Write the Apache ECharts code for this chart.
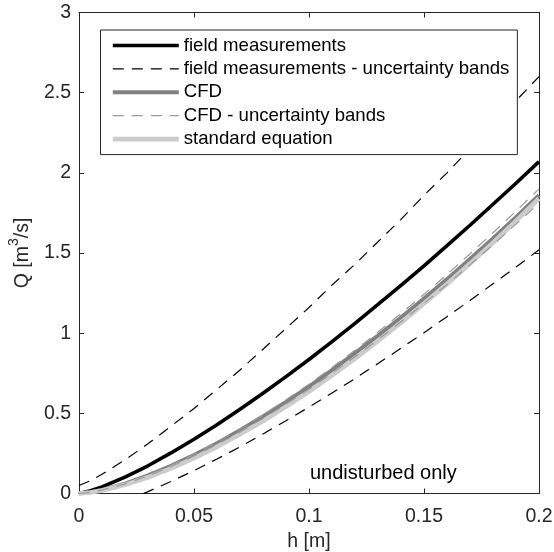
<!DOCTYPE html>
<html>
<head>
<meta charset="utf-8">
<script src="https://cdn.jsdelivr.net/npm/echarts@6/dist/echarts.min.js"></script>
<style>
  html, body { margin: 0; padding: 0; background: #fff; }
  #chart { width: 554px; height: 552px; }
</style>
</head>
<body>
<div id="chart"></div>
<script>
// Water level h [m] at which the rating curves are evaluated
const hValues = [0, 0.005, 0.01, 0.02, 0.03, 0.04, 0.05, 0.06, 0.07, 0.08, 0.09, 0.10,
                 0.11, 0.12, 0.13, 0.14, 0.15, 0.16, 0.17, 0.18, 0.19, 0.20];

// Discharge Q [m^3/s] from field measurements and its uncertainty bands
const fieldQ      = [0, 0.017, 0.041, 0.102, 0.173, 0.253, 0.338, 0.429, 0.525, 0.625, 0.729, 0.836,
                     0.947, 1.061, 1.179, 1.298, 1.420, 1.546, 1.673, 1.804, 1.935, 2.07];
const fieldUpperQ = [0.05, 0.08, 0.12, 0.21, 0.31, 0.42, 0.53, 0.65, 0.77, 0.90, 1.03, 1.16,
                     1.30, 1.43, 1.57, 1.71, 1.86, 2.00, 2.15, 2.30, 2.45, 2.60];
// lower band only becomes positive above h = 0.028 m
const fieldLowerH = [0.028, 0.03, 0.04, 0.05, 0.06, 0.07, 0.08, 0.09, 0.10,
                     0.11, 0.12, 0.13, 0.14, 0.15, 0.16, 0.17, 0.18, 0.19, 0.20];
const fieldLowerQ = [0, 0.012, 0.075, 0.143, 0.215, 0.291, 0.371, 0.454, 0.539,
                     0.627, 0.717, 0.811, 0.906, 1.003, 1.103, 1.204, 1.308, 1.412, 1.52];

// CFD results and uncertainty bands
const cfdQ      = [0, 0.008, 0.022, 0.062, 0.113, 0.172, 0.240, 0.314, 0.394, 0.480, 0.571, 0.667,
                   0.769, 0.875, 0.985, 1.098, 1.216, 1.337, 1.463, 1.591, 1.723, 1.86];
const cfdUpperQ = [0, 0.008, 0.023, 0.063, 0.115, 0.176, 0.245, 0.321, 0.403, 0.491, 0.584, 0.682,
                   0.786, 0.894, 1.007, 1.122, 1.243, 1.366, 1.495, 1.626, 1.761, 1.90];
const cfdLowerQ = [0, 0.008, 0.022, 0.060, 0.110, 0.168, 0.234, 0.306, 0.384, 0.468, 0.557, 0.650,
                   0.750, 0.853, 0.960, 1.071, 1.186, 1.304, 1.426, 1.551, 1.680, 1.81];

// Standard weir equation
const standardQ = [0, 0.0065, 0.019, 0.054, 0.101, 0.157, 0.220, 0.291, 0.369, 0.452, 0.542, 0.636,
                   0.737, 0.841, 0.951, 1.065, 1.185, 1.307, 1.434, 1.564, 1.700, 1.84];

const xTicks = [0, 0.05, 0.1, 0.15, 0.2];
const yTicks = [0, 0.5, 1, 1.5, 2, 2.5, 3];

const seriesNames = [
  'field measurements',
  'field measurements - uncertainty bands',
  'CFD',
  'CFD - uncertainty bands',
  'standard equation'
];

const pairs = (xs, ys) => xs.map((x, i) => [x, ys[i]]);

const FONT = '"Liberation Sans", Arial, Helvetica, sans-serif';
const AXIS_COLOR = '#262626';

// line appearance per legend entry
const styles = {
  'field measurements':                     { color: '#000000', width: 3.6, type: 'solid' },
  'field measurements - uncertainty bands': { color: '#000000', width: 1.2, type: [11, 8] },
  'CFD':                                    { color: '#808080', width: 4.0, type: 'solid' },
  'CFD - uncertainty bands':                { color: '#9a9a9a', width: 1.2, type: [11, 8] },
  'standard equation':                      { color: '#cccccc', width: 4.6, type: 'solid' }
};

function lineSeries(name, data, z) {
  const s = styles[name];
  return {
    name: name,
    type: 'line',
    data: data,
    smooth: false,
    showSymbol: false,
    symbol: 'circle',
    symbolSize: 0,
    clip: true,
    z: z,
    lineStyle: { color: s.color, width: s.width, type: s.type, cap: 'butt' },
    itemStyle: { color: s.color },
    emphasis: { disabled: true },
    animation: false
  };
}

const chart = echarts.init(document.getElementById('chart'), null, { renderer: 'canvas' });

const baseX = {
  type: 'value',
  min: xTicks[0],
  max: xTicks[xTicks.length - 1],
  interval: 0.05,
  splitLine: { show: false },
  axisLine: { show: true, onZero: false, lineStyle: { color: AXIS_COLOR, width: 1 } },
  axisTick: { show: true, inside: true, length: 5, lineStyle: { color: AXIS_COLOR } }
};
const baseY = {
  type: 'value',
  min: yTicks[0],
  max: yTicks[yTicks.length - 1],
  interval: 0.5,
  splitLine: { show: false },
  axisLine: { show: true, onZero: false, lineStyle: { color: AXIS_COLOR, width: 1 } },
  axisTick: { show: true, inside: true, length: 5, lineStyle: { color: AXIS_COLOR } }
};

const option = {
  backgroundColor: '#fff',
  animation: false,
  grid: { left: 79, right: 15, top: 12.5, bottom: 58.5, containLabel: false, outerBoundsMode: 'none' },
  xAxis: [
    Object.assign({}, baseX, {
      position: 'bottom',
      name: 'h [m]',
      nameLocation: 'middle',
      nameGap: 38,
      nameTextStyle: { color: AXIS_COLOR, fontSize: 19.5, fontFamily: FONT },
      axisLabel: {
        color: AXIS_COLOR, fontSize: 19.5, fontFamily: FONT, margin: 13,
        formatter: v => String(+v.toFixed(3))
      }
    }),
    Object.assign({}, baseX, { position: 'top', axisLabel: { show: false } })
  ],
  yAxis: [
    Object.assign({}, baseY, {
      position: 'left',
      name: '{t|Q [m}{s|3}{t|/s]}',
      nameLocation: 'middle',
      nameGap: 33,
      nameTextStyle: {
        color: AXIS_COLOR, fontFamily: FONT,
        rich: {
          t: { fontSize: 19.5, fontFamily: FONT, color: AXIS_COLOR, lineHeight: 26, verticalAlign: 'bottom' },
          s: { fontSize: 14, fontFamily: FONT, color: AXIS_COLOR, lineHeight: 26, verticalAlign: 'top' }
        }
      },
      axisLabel: {
        color: AXIS_COLOR, fontSize: 19.5, fontFamily: FONT, margin: 8,
        formatter: v => String(+v.toFixed(2))
      }
    }),
    Object.assign({}, baseY, { position: 'right', axisLabel: { show: false } })
  ],
  legend: {
    show: true,
    orient: 'vertical',
    left: 100.5,
    top: 30,
    padding: [6, 8, 6, 10],
    itemWidth: 66,
    itemHeight: 18.6,
    itemGap: 4.4,
    backgroundColor: '#fff',
    borderColor: AXIS_COLOR,
    borderWidth: 1,
    borderRadius: 0,
    selectedMode: false,
    data: seriesNames.map(n => ({
      name: n,
      lineStyle: { color: styles[n].color, width: styles[n].width, type: styles[n].type, cap: 'butt' }
    })),
    itemStyle: { opacity: 0, borderWidth: 0 },
    textStyle: { color: '#000', fontSize: 18.6, fontFamily: FONT, padding: [0, 0, 0, 0] }
  },
  graphic: [
    {
      type: 'text',
      left: 310,
      top: 463,
      silent: true,
      style: { text: 'undisturbed only', fill: '#000', font: '20px ' + FONT }
    }
  ],
  series: [
    lineSeries(seriesNames[0], pairs(hValues, fieldQ), 2),
    lineSeries(seriesNames[1], pairs(hValues, fieldUpperQ), 2),
    lineSeries(seriesNames[2], pairs(hValues, cfdQ), 3),
    lineSeries(seriesNames[3], pairs(hValues, cfdUpperQ), 3),
    lineSeries(seriesNames[4], pairs(hValues, standardQ), 4),
    // second halves of the uncertainty bands share the legend entries above
    lineSeries(seriesNames[1], pairs(fieldLowerH, fieldLowerQ), 2),
    lineSeries(seriesNames[3], pairs(hValues, cfdLowerQ), 5)
  ]
};

chart.setOption(option);
</script>
</body>
</html>
